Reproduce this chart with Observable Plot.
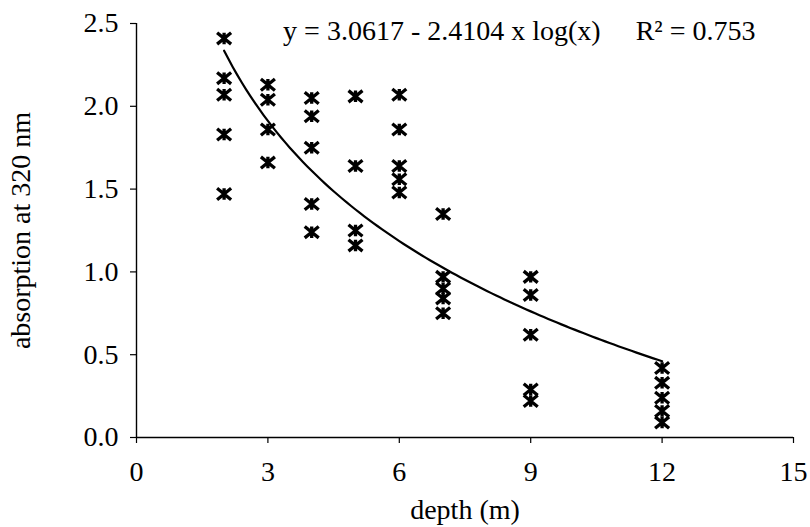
<!DOCTYPE html>
<html>
<head>
<meta charset="utf-8">
<script src="https://cdn.jsdelivr.net/npm/d3@7"></script>
<script src="https://cdn.jsdelivr.net/npm/@observablehq/plot@0.6"></script>
<style>
  html, body { margin: 0; padding: 0; background: white; }
</style>
</head>
<body>
<div id="chart"></div>
<script>
// Data
const depths = [2, 3, 4, 5, 6, 7, 9, 12];
const abs2  = [2.41, 2.17, 2.07, 1.83, 1.47];
const abs3  = [2.13, 2.04, 1.86, 1.66];
const abs4  = [2.05, 1.94, 1.75, 1.41, 1.24];
const abs5  = [2.06, 1.64, 1.25, 1.16];
const abs6  = [2.07, 1.86, 1.64, 1.56, 1.48];
const abs7  = [1.35, 0.97, 0.90, 0.84, 0.75];
const abs9  = [0.97, 0.86, 0.62, 0.29, 0.22];
const abs12 = [0.42, 0.33, 0.24, 0.16, 0.09];
const absByDepth = [abs2, abs3, abs4, abs5, abs6, abs7, abs9, abs12];

// Trend line as stated on the chart
const fitIntercept = 3.0617;
const fitSlope = 2.4104;
const fitRange = [2, 12];
const equationText = "y = 3.0617 - 2.4104 x log(x)\u2003 R\u00B2 = 0.753";

const xTicks = [0, 3, 6, 9, 12, 15];
const yTicks = [0, 0.5, 1.0, 1.5, 2.0, 2.5];

const points = depths.flatMap((d, i) => absByDepth[i].map(v => ({depth: d, absorption: v})));
const fit = d3.range(fitRange[0], fitRange[1] + 0.0001, 0.1).map(x => ({depth: x, absorption: fitIntercept - fitSlope * Math.log10(x)}));

// Star marker: X with a vertical stroke through it
const starSymbol = {
  draw(context, size) {
    const r = Math.sqrt(size / Math.PI);
    const h = r * 0.82;
    context.moveTo(-r, -h); context.lineTo(r, h);
    context.moveTo(-r, h); context.lineTo(r, -h);
    context.moveTo(0, -h); context.lineTo(0, h);
  }
};

const font = "'Liberation Serif', 'Times New Roman', serif";

const chart = Plot.plot({
  width: 810,
  height: 527,
  marginLeft: 136,
  marginRight: 17,
  marginTop: 23,
  marginBottom: 90,
  style: {fontFamily: font, fontSize: "28px", color: "black", background: "white"},
  x: {domain: [0, 15]},
  y: {domain: [0, 2.5]},
  marks: [
    Plot.axisX({ticks: xTicks, tickSize: 6, tickPadding: 18, strokeWidth: 1.2, label: "depth (m)", labelAnchor: "center", labelArrow: "none", labelOffset: 81, fontSize: 28}),
    Plot.axisY({ticks: yTicks, tickSize: 6, tickPadding: 12, strokeWidth: 1.2, tickFormat: d3.format(".1f"), label: "absorption at 320 nm", labelAnchor: "center", labelArrow: "none", labelOffset: 126, fontSize: 28}),
    Plot.ruleX([0], {stroke: "black", strokeWidth: 1.4}),
    Plot.ruleY([0], {stroke: "black", strokeWidth: 1.4}),
    Plot.line(fit, {x: "depth", y: "absorption", stroke: "black", strokeWidth: 2.2}),
    Plot.dot(points, {x: "depth", y: "absorption", symbol: starSymbol, r: 7, fill: "none", stroke: "black", strokeWidth: 3.3}),
    Plot.text([equationText], {text: d => d, frameAnchor: "top-right", lineAnchor: "middle", textAnchor: "end", dx: -38, dy: 8, fontSize: 28})
  ]
});
document.getElementById("chart").append(chart);
</script>
</body>
</html>
